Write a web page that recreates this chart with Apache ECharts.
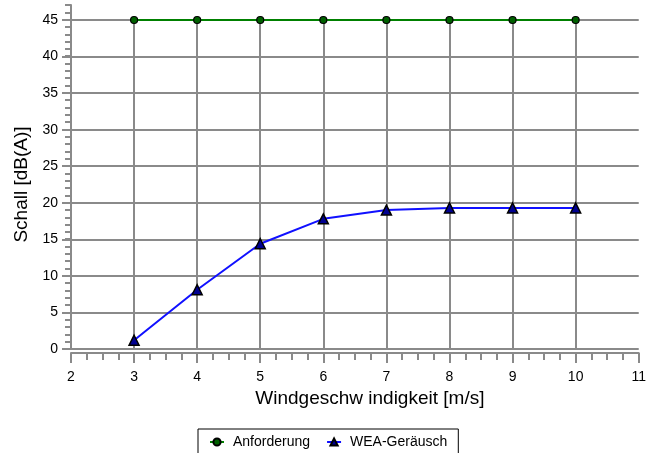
<!DOCTYPE html>
<html>
<head>
<meta charset="utf-8">
<script src="https://cdn.jsdelivr.net/npm/echarts@6/dist/echarts.min.js"></script>
<style>
html,body{margin:0;padding:0;background:#fff;}
#chart{width:649px;height:453px;}
</style>
</head>
<body>
<div id="chart"></div>
<script>
const windSpeeds = [3, 4, 5, 6, 7, 8, 9, 10];
const anforderung = [45, 45, 45, 45, 45, 45, 45, 45];
const weaGeraeusch = [1.2, 8.1, 14.4, 17.8, 19.0, 19.3, 19.3, 19.3];
const seriesNames = ['Anforderung', 'WEA-Geräusch'];
const xAxisTitle = 'Windgeschw indigkeit [m/s]';
const yAxisTitle = 'Schall [dB(A)]';

const FONT = 'Liberation Sans, Arial, sans-serif';
const GRID_COLOR = '#8a8a8a';

const chart = echarts.init(document.getElementById('chart'), null, {renderer: 'canvas'});

chart.setOption({
  backgroundColor: '#ffffff',
  animation: false,
  textStyle: {fontFamily: FONT},
  grid: [
    {left: 71, right: 7, top: 20, bottom: 104, containLabel: false},
    {left: 71, right: 7, top: 5, bottom: 104, containLabel: false}
  ],
  legend: {
    data: seriesNames,
    left: 198,
    top: 429,
    orient: 'horizontal',
    borderColor: '#000',
    borderWidth: 1,
    borderRadius: 0,
    padding: [6, 11, 10, 11],
    itemGap: 16,
    itemWidth: 14,
    itemHeight: 9,
    textStyle: {fontFamily: FONT, fontSize: 14, color: '#000', padding: [0, 0, 0, 4]}
  },
  xAxis: [
    {
      type: 'value', gridIndex: 0, min: 2, max: 11, interval: 1,
      offset: 4,
      name: xAxisTitle, nameLocation: 'middle', nameGap: 36,
      nameTextStyle: {fontFamily: FONT, fontSize: 19, color: '#000', padding: [0, 0, 0, 30]},
      axisLine: {show: true, onZero: false, lineStyle: {color: GRID_COLOR, width: 2}},
      axisTick: {show: true, length: 10, lineStyle: {color: GRID_COLOR, width: 2}},
      minorTick: {show: true, splitNumber: 4, length: 7, lineStyle: {color: GRID_COLOR, width: 2}},
      axisLabel: {fontFamily: FONT, fontSize: 14, color: '#000', margin: 17},
      splitLine: {show: true, showMinLine: false, showMaxLine: false, lineStyle: {color: GRID_COLOR, width: 2}}
    },
    {
      type: 'value', gridIndex: 1, min: 2, max: 11, show: false
    }
  ],
  yAxis: [
    {
      type: 'value', gridIndex: 0, min: 0, max: 45, interval: 5,
      name: yAxisTitle, nameLocation: 'middle', nameGap: 40,
      nameTextStyle: {fontFamily: FONT, fontSize: 19, color: '#000'},
      axisLine: {show: true, onZero: false, lineStyle: {color: GRID_COLOR, width: 2}},
      axisTick: {show: true, length: 9, lineStyle: {color: GRID_COLOR, width: 2}},
      minorTick: {show: false},
      axisLabel: {fontFamily: FONT, fontSize: 14, color: '#000', margin: 13},
      splitLine: {show: true, showMinLine: true, showMaxLine: true, lineStyle: {color: GRID_COLOR, width: 2}}
    },
    {
      type: 'value', gridIndex: 1, min: 0, max: 47, interval: 1,
      axisLine: {show: true, onZero: false, lineStyle: {color: GRID_COLOR, width: 2}},
      axisTick: {show: true, length: 6, lineStyle: {color: GRID_COLOR, width: 2}},
      axisLabel: {show: false},
      splitLine: {show: false}
    }
  ],
  series: [
    {
      name: seriesNames[0],
      type: 'line',
      xAxisIndex: 0, yAxisIndex: 0,
      data: windSpeeds.map((x, i) => [x, anforderung[i]]),
      symbol: 'circle',
      symbolSize: 7,
      lineStyle: {color: '#008000', width: 2},
      itemStyle: {color: '#006000', borderColor: '#000', borderWidth: 1.2},
      z: 5
    },
    {
      name: seriesNames[1],
      type: 'line',
      xAxisIndex: 0, yAxisIndex: 0,
      data: windSpeeds.map((x, i) => [x, weaGeraeusch[i]]),
      symbol: 'triangle',
      symbolSize: 10,
      lineStyle: {color: '#1010ff', width: 2},
      itemStyle: {color: '#000090', borderColor: '#000', borderWidth: 1.5},
      z: 5
    }
  ]
});
</script>
</body>
</html>
